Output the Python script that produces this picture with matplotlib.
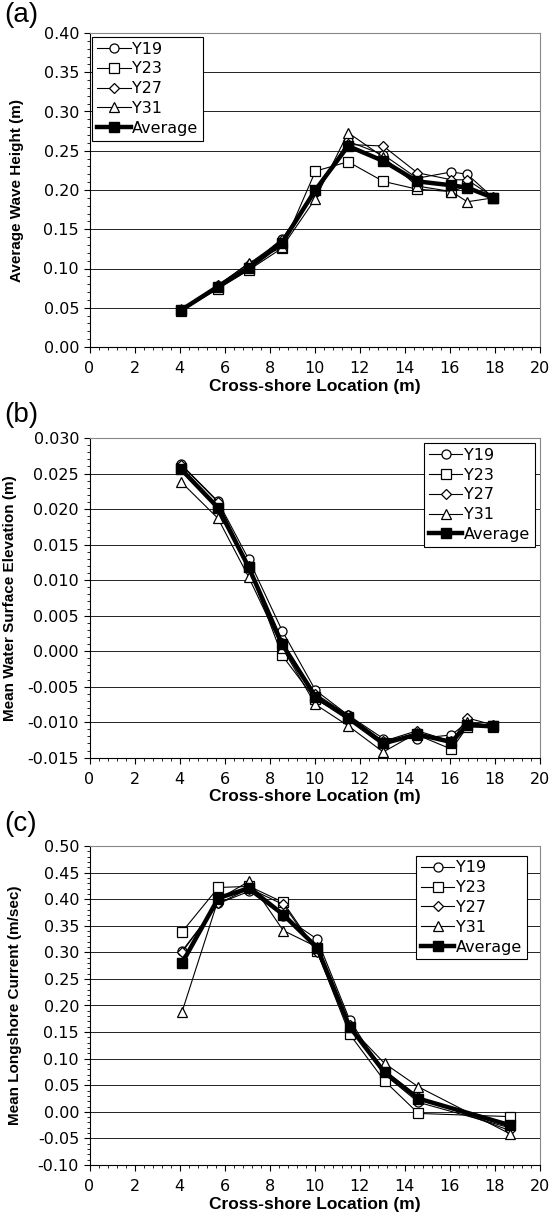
import numpy as np
import matplotlib
matplotlib.use('Agg')
import matplotlib.pyplot as plt
from matplotlib.ticker import MultipleLocator, FormatStrFormatter

plt.rcParams['font.family'] = ['DejaVu Sans']
plt.rcParams['font.size'] = 11

series_names = ['Y19', 'Y23', 'Y27', 'Y31', 'Average']

# (a) average wave height
x_a = [4.07, 5.70, 7.07, 8.55, 10.03, 11.48, 13.04, 14.55, 16.07, 16.77, 17.93]
h_y19 = [0.047, 0.078, 0.103, 0.138, 0.197, 0.262, 0.245, 0.215, 0.223, 0.220, 0.190]
h_y23 = [0.046, 0.074, 0.098, 0.126, 0.224, 0.236, 0.211, 0.201, 0.198, 0.205, 0.190]
h_y27 = [0.047, 0.079, 0.106, 0.136, 0.196, 0.258, 0.256, 0.222, 0.213, 0.213, 0.191]
h_y31 = [0.048, 0.078, 0.107, 0.127, 0.189, 0.273, 0.242, 0.205, 0.198, 0.185, 0.190]
h_avg = [0.047, 0.077, 0.101, 0.133, 0.200, 0.256, 0.237, 0.211, 0.206, 0.203, 0.190]

# (b) mean water surface elevation
x_b = x_a
e_y19 = [0.0263, 0.0211, 0.0129, 0.0029, -0.0055, -0.0090, -0.0123, -0.0123, -0.0118, -0.0100, -0.0105]
e_y23 = [0.0258, 0.0203, 0.0118, -0.0006, -0.0068, -0.0093, -0.0130, -0.0118, -0.0138, -0.0107, -0.0105]
e_y27 = [0.0262, 0.0210, 0.0120, 0.0012, -0.0060, -0.0090, -0.0127, -0.0112, -0.0127, -0.0094, -0.0104]
e_y31 = [0.0238, 0.0187, 0.0104, 0.0005, -0.0075, -0.0105, -0.0142, -0.0115, -0.0130, -0.0100, -0.0107]
e_avg = [0.0256, 0.0202, 0.0118, 0.0010, -0.0064, -0.0094, -0.0130, -0.0117, -0.0128, -0.0104, -0.0106]

# (c) mean longshore current
x_c = [4.10, 5.72, 7.10, 8.60, 10.10, 11.55, 13.10, 14.60, 18.65]
v_y19 = [0.302, 0.392, 0.415, 0.368, 0.325, 0.173, 0.070, 0.018, -0.030]
v_y23 = [0.338, 0.422, 0.424, 0.394, 0.302, 0.146, 0.058, -0.003, -0.009]
v_y27 = [0.300, 0.392, 0.420, 0.390, 0.300, 0.163, 0.078, 0.028, -0.035]
v_y31 = [0.187, 0.400, 0.434, 0.341, 0.310, 0.160, 0.091, 0.047, -0.041]
v_avg = [0.279, 0.402, 0.421, 0.371, 0.309, 0.160, 0.074, 0.025, -0.025]

markers = ['o', 's', 'D', '^', 's']
msizes = [6.5, 7, 5, 7, 6.5]

fig = plt.figure(figsize=(5.51, 12.2), dpi=100)
W, H = 551.0, 1220.0

def make_axes(top, bottom):
    return fig.add_axes([89.5 / W, 1 - bottom / H, (540 - 89.5) / W, (bottom - top) / H])

def draw(ax, x, ys, ylim, major, minor, fmt, ylabel, ylab_x, leg_loc, leg_anchor):
    for i, (name, y) in enumerate(zip(series_names, ys)):
        if name == 'Average':
            ax.plot(x, y, color='black', lw=3.2, marker='s', ms=6.5,
                    mfc='black', mec='black', label=name, zorder=5)
        else:
            ax.plot(x, y, color='black', lw=0.8, marker=markers[i], ms=msizes[i],
                    mfc='white', mec='black', mew=0.9, label=name, zorder=3)
    ax.set_xlim(0, 20)
    ax.set_ylim(*ylim)
    ax.xaxis.set_major_locator(MultipleLocator(2))
    ax.xaxis.set_minor_locator(MultipleLocator(0.4))
    ax.yaxis.set_major_locator(MultipleLocator(major))
    ax.yaxis.set_minor_locator(MultipleLocator(minor))
    ax.yaxis.set_major_formatter(FormatStrFormatter(fmt))
    ax.grid(axis='y', which='major', color='#222222', lw=0.7)
    ax.set_axisbelow(True)
    ax.tick_params(which='major', direction='out', length=4, width=0.8, labelsize=11.5)
    ax.tick_params(which='minor', direction='out', length=2.5, width=0.6)
    ax.tick_params(axis='x', which='major', pad=6)
    for s in ['top', 'right']:
        ax.spines[s].set_color('#888888')
        ax.spines[s].set_linestyle((0, (1, 1)))
        ax.spines[s].set_linewidth(0.8)
    for s in ['left', 'bottom']:
        ax.spines[s].set_linewidth(0.8)
    ax.set_xlabel('Cross-shore Location (m)', fontweight='bold', fontsize=12.5,
                  family='Liberation Sans', labelpad=2)
    ax.set_ylabel(ylabel, fontweight='bold', fontsize=11, family='Liberation Sans')
    ax.yaxis.set_label_coords(ylab_x, 0.5)
    leg = ax.legend(loc=leg_loc, bbox_to_anchor=leg_anchor, fancybox=False,
                    edgecolor='black', framealpha=1, fontsize=11.5, borderpad=0.3,
                    labelspacing=0.3, handlelength=2.1, handletextpad=0.1,
                    borderaxespad=0)
    leg.get_frame().set_linewidth(0.8)

ax_a = make_axes(33, 347)
draw(ax_a, x_a, [h_y19, h_y23, h_y27, h_y31, h_avg], (0, 0.40), 0.05, 0.01, '%.2f',
     'Average Wave Height (m)', -0.145, 'upper left', (0.006, 0.988))

ax_b = make_axes(438, 757.7)
draw(ax_b, x_b, [e_y19, e_y23, e_y27, e_y31, e_avg], (-0.015, 0.030), 0.005, 0.001, '%.3f',
     'Mean Water Surface Elevation (m)', -0.16, 'upper right', (0.989, 0.984))

ax_c = make_axes(846, 1165)
draw(ax_c, x_c, [v_y19, v_y23, v_y27, v_y31, v_avg], (-0.10, 0.50), 0.05, 0.01, '%.2f',
     'Mean Longshore Current (m/sec)', -0.15, 'upper right', (0.971, 0.97))

fig.text(4 / W, 1 - 2 / H, '(a)', fontsize=20, va='top', ha='left', family='Liberation Sans')
fig.text(4 / W, 1 - 402 / H, '(b)', fontsize=20, va='top', ha='left', family='Liberation Sans')
fig.text(4 / W, 1 - 811 / H, '(c)', fontsize=20, va='top', ha='left', family='Liberation Sans')

fig.savefig('out.png', dpi=100)
